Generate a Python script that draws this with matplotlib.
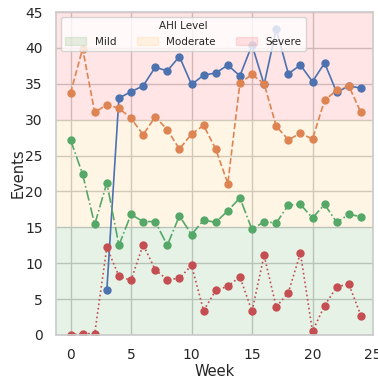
import matplotlib
matplotlib.use("Agg")
import matplotlib.pyplot as plt
import matplotlib.patches as mpatches
import numpy as np
import seaborn as sns

sns.set_theme(style="whitegrid")
plt.rcParams['font.family'] = ['DejaVu Sans']

weeks = list(range(25))
blue_weeks = list(range(3, 25))
blue_vals = [6.2, 33.0, 33.9, 34.7, 37.3, 36.8, 38.8, 34.9, 36.2, 36.5, 37.6, 36.1,
             40.4, 34.9, 42.6, 36.4, 37.6, 35.3, 37.9, 33.8, 34.7, 34.4]
orange_vals = [33.7, 39.9, 31.0, 32.1, 31.6, 30.2, 27.9, 30.4, 28.6, 25.9, 28.0, 29.2,
               25.9, 21.1, 35.1, 36.3, 35.0, 29.1, 27.2, 28.1, 27.3, 32.7, 34.1, 34.7, 31.0]
green_vals = [27.2, 22.4, 15.4, 21.2, 12.5, 16.8, 15.8, 15.8, 12.5, 16.6, 14.0, 16.0,
              15.7, 17.3, 19.1, 14.7, 15.8, 15.6, 18.1, 18.2, 16.3, 18.2, 15.7, 16.8, 16.5]
red_vals = [0.0, 0.2, 0.2, 12.2, 8.2, 7.6, 12.6, 9.1, 7.7, 7.9, 9.7, 3.4,
            6.2, 6.8, 8.1, 3.3, 11.1, 3.9, 5.9, 11.4, 0.5, 4.1, 6.7, 7.1, 2.7]

band_labels = ["Mild", "Moderate", "Severe"]
band_edges = [0, 15, 30, 45]
band_colors = ["green", "orange", "red"]

fig = plt.figure(figsize=(3.78, 3.79), dpi=100)
ax = fig.add_axes([56/378, 1-335/379, (373-56)/378, (335-12)/379])

for lo, hi, c in zip(band_edges[:-1], band_edges[1:], band_colors):
    ax.axhspan(lo, hi, color=c, alpha=0.1, lw=0)

pal = sns.color_palette("deep")
ax.plot(blue_weeks, blue_vals, '-', marker='o', color=pal[0], lw=1.2, ms=5)
ax.plot(weeks, orange_vals, '--', marker='o', color=pal[1], lw=1.2, ms=5)
ax.plot(weeks, green_vals, '-.', marker='o', color=pal[2], lw=1.2, ms=5)
ax.plot(weeks, red_vals, ':', marker='o', color=pal[3], lw=1.2, ms=5)

ax.set_ylim(0, 45)
ax.set_xlim(-1.2, 25)
ax.set_xticks([0, 5, 10, 15, 20, 25])
ax.set_yticks(range(0, 46, 5))
ax.tick_params(labelsize=10)
ax.set_xlabel("Week", fontsize=10.5, labelpad=1)
ax.set_ylabel("Events", fontsize=10.5, labelpad=0)

handles = [mpatches.Patch(color=c, alpha=0.1, label=l) for c, l in zip(band_colors, band_labels)]
ax.legend(handles=handles, title="AHI Level", ncol=3, loc="upper left",
          fontsize=7.5, title_fontsize=7.5, framealpha=0.8)

fig.savefig("out.png", dpi=100)
